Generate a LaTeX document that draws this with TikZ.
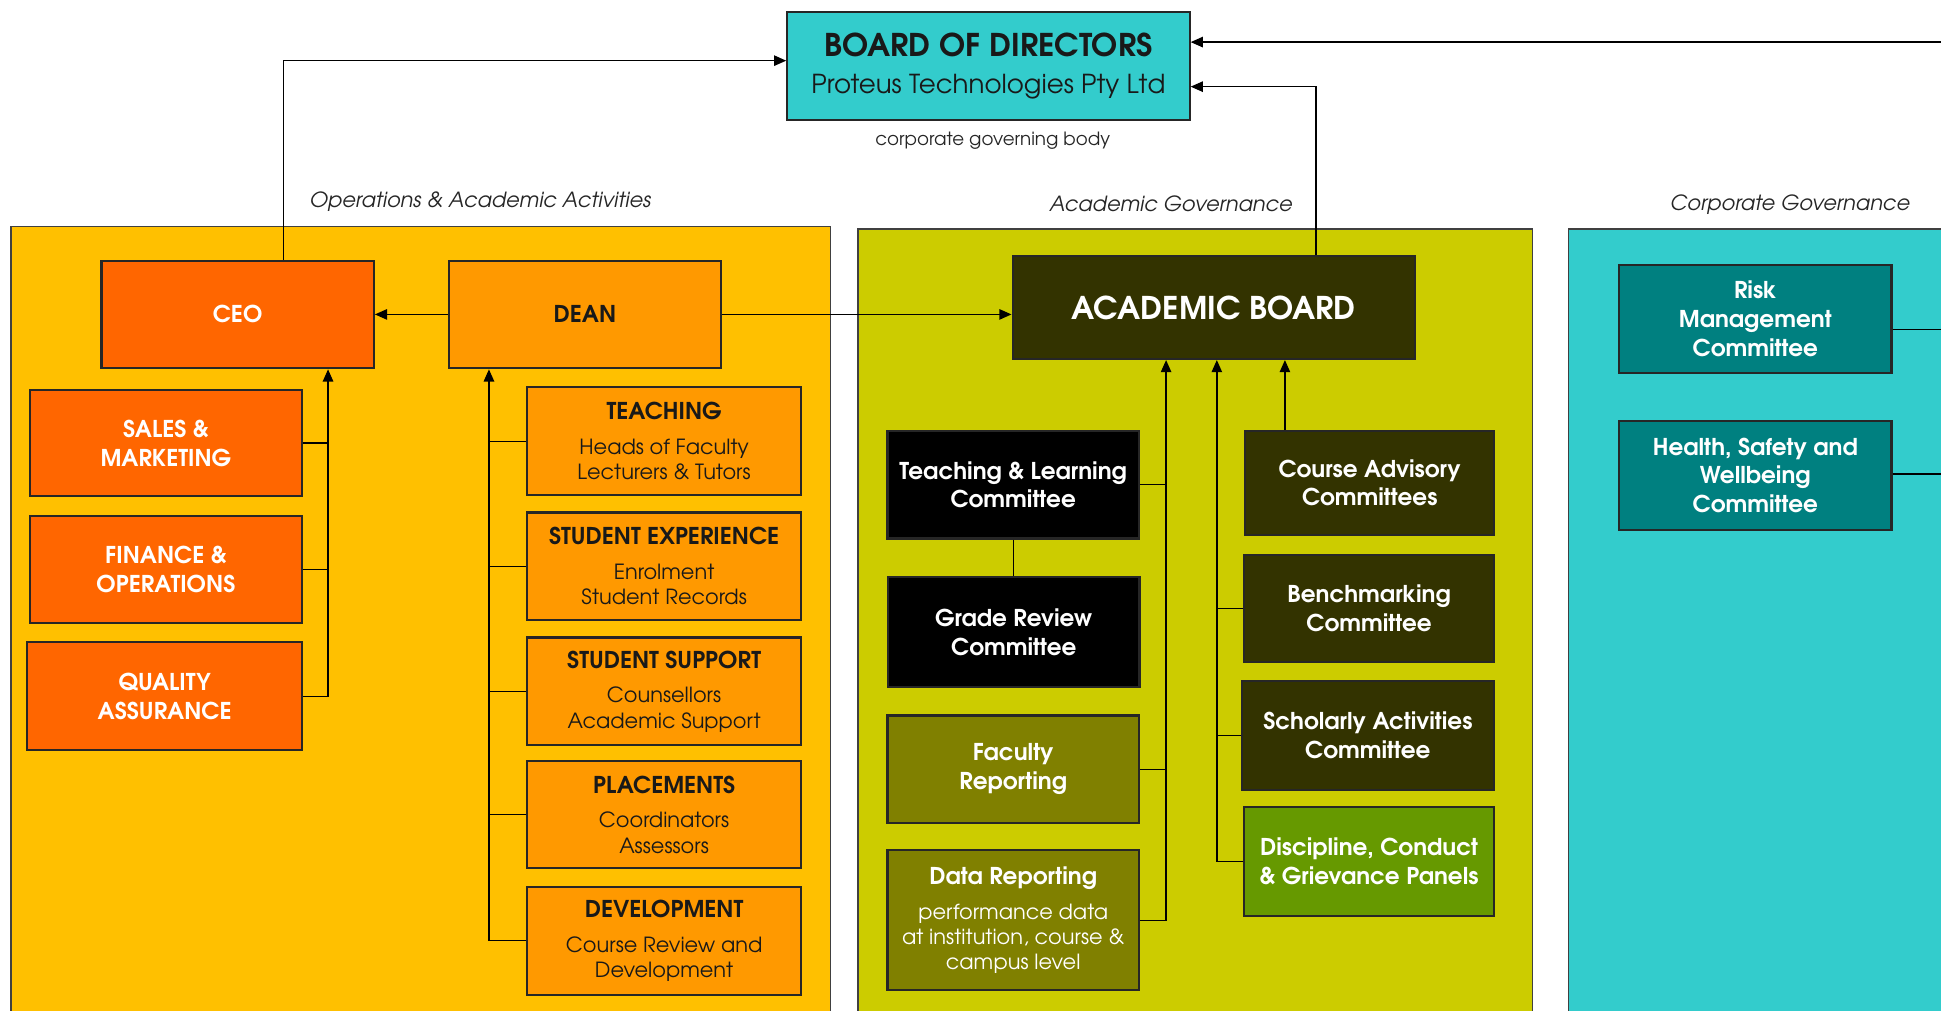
\documentclass[tikz,border=0pt]{standalone}
\usepackage{fontspec}
\setmainfont{texgyreadventor}[Extension=.otf, UprightFont=*-regular, BoldFont=*-bold,
  ItalicFont=*-italic, BoldItalicFont=*-bolditalic]
\usetikzlibrary{arrows.meta,calc}

\definecolor{boardcyan}{HTML}{33CCCC}
\definecolor{opsyellow}{HTML}{FFC000}
\definecolor{acadlime}{HTML}{CCCC00}
\definecolor{opsorange}{HTML}{FF6600}
\definecolor{deptorange}{HTML}{FF9900}
\definecolor{abolive}{HTML}{333300}
\definecolor{repolive}{HTML}{808000}
\definecolor{discgreen}{HTML}{669900}
\definecolor{corpteal}{HTML}{008080}

\newcommand{\headsz}{\fontsize{13.3}{16.5}\selectfont\bfseries}
\newcommand{\subsz}{\fontsize{12}{14.5}\selectfont}
\newcommand{\tagsz}{\fontsize{12}{14}\selectfont}
\newcommand{\boxhead}[1]{{\fontsize{13.3}{14.5}\selectfont\bfseries #1}\\[5.5pt]}

\begin{document}
\begin{tikzpicture}[x=0.025cm, y=-0.025cm,
    unit/.style={draw=black!85, line width=1.2pt, align=center, inner sep=2pt,
                 minimum width=5.5cm, minimum height=2.175cm},
    ops/.style={unit, fill=opsorange, text=white, font=\headsz},
    dept/.style={unit, fill=deptorange, text=black!90, minimum width=5.525cm, font=\subsz},
    cmte/.style={unit, minimum width=5.075cm, text=white, font=\headsz},
    corp/.style={unit, fill=corpteal, text=white, font=\headsz},
    panel/.style={draw=black!75, line width=0.9pt},
    tag/.style={font=\tagsz\itshape, text=black!85},
    link/.style={line width=0.8pt},
    up/.style={link, -{Triangle[length=7pt,width=6pt]}}]
    \useasboundingbox (0,0) rectangle (1568,816);
    \clip (0,0) rectangle (1568,816);

    % Panels
    \draw[panel, fill=opsyellow] (9,183) rectangle (671,830);
    \draw[panel, fill=acadlime] (693,185) rectangle (1238,830);
    \draw[panel, fill=boardcyan] (1267,185) rectangle (1590,830);

    % Board
    \node[unit, fill=boardcyan, text=black!90, minimum width=8.125cm,
          font=\fontsize{15}{21}\selectfont] (board) at (798.5,53.5)
          {{\fontsize{18}{21}\selectfont\bfseries BOARD OF DIRECTORS}\\Proteus Technologies Pty Ltd};
    \node[font=\fontsize{10.5}{12}\selectfont, text=black!85] (govnote) at (802,114) {corporate governing body};

    % Panel titles
    \node[tag] (opstag) at (388,163) {Operations \& Academic Activities};
    \node[tag] (acadtag) at (946,165) {Academic Governance};
    \node[tag] (corptag) at (1446,165) {Corporate Governance};

    % Operations
    \node[ops] (ceo) at (192,254) {CEO};
    \node[ops, fill=deptorange, text=black!90] (dean) at (472.5,254) {DEAN};
    \node[ops, minimum height=2.15cm] (sales) at (134,358) {SALES \&\\MARKETING};
    \node[ops, minimum height=2.15cm] (finance) at (134,460) {FINANCE \&\\OPERATIONS};
    \node[ops, minimum width=5.55cm] (quality) at (133,562.5) {QUALITY\\ASSURANCE};

    \node[dept] (teaching) at (536.5,356.5) {\boxhead{TEACHING}Heads of Faculty\\Lecturers \& Tutors};
    \node[dept] (studexp) at (536.5,457.5) {\boxhead{STUDENT EXPERIENCE}Enrolment\\Student Records};
    \node[dept] (studsup) at (536.5,558.5) {\boxhead{STUDENT SUPPORT}Counsellors\\Academic Support};
    \node[dept] (placements) at (536.5,658) {\boxhead{PLACEMENTS}Coordinators\\Assessors};
    \node[dept] (development) at (536.5,760) {\boxhead{DEVELOPMENT}Course Review and\\Development};

    % Academic governance
    \node[unit, fill=abolive, text=white, minimum width=8.125cm, minimum height=2.075cm,
          font=\fontsize{18}{22}\selectfont\bfseries] (acadboard) at (980.5,248.5) {ACADEMIC BOARD};

    \node[cmte, fill=black] (tlc) at (818.5,391.5) {Teaching \& Learning\\Committee};
    \node[cmte, fill=black, minimum height=2.225cm] (grc) at (819,510.5) {Grade Review\\Committee};
    \node[cmte, fill=repolive] (facrep) at (818.5,621.5) {Faculty\\Reporting};
    \node[cmte, fill=repolive, minimum height=2.825cm, font=\subsz] (datarep) at (818.5,743.5)
          {\boxhead{Data Reporting}performance data\\at institution, course \&\\campus level};

    \node[cmte, fill=abolive, minimum width=5.025cm, minimum height=2.1cm] (cac) at (1106.5,390) {Course Advisory\\Committees};
    \node[cmte, fill=abolive, minimum width=5.05cm] (bench) at (1106,491.5) {Benchmarking\\Committee};
    \node[cmte, fill=abolive, minimum width=5.1cm, minimum height=2.2cm] (scholarly) at (1105,594) {Scholarly Activities\\Committee};
    \node[cmte, fill=discgreen, minimum width=5.05cm, minimum height=2.2cm] (discipline) at (1106,696) {Discipline, Conduct\\\& Grievance Panels};

    % Corporate governance
    \node[corp] (risk) at (1418,257.5) {Risk\\Management\\Committee};
    \node[corp, minimum height=2.2cm] (whs) at (1418,384) {Health, Safety and\\Wellbeing\\Committee};

    % Reporting lines to the board
    \coordinate (corpline) at (1568,34);
    \draw[up] (corpline) -- (corpline -| board.east);
    \draw[up] ($(acadboard.north)+(82.5,0)$) |- ($(board.east)+(0,16.5)$);
    \draw[up] ($(ceo.north)+(37,0)$) |- ($(board.west)+(0,-4.5)$);

    % Operations lines
    \draw[up] (dean.west) -- (ceo.east);
    \draw[up] (dean.east) -- (dean.east -| acadboard.west);
    \draw[up] (quality.east) -| ($(ceo.south)+(73,0)$);
    \foreach \n in {sales,finance}
        \draw[link] (\n.east) -- +(21,0);
    \draw[up] (development.west) -| ($(dean.south)+(-77.5,0)$);
    \foreach \n in {teaching,studexp,studsup,placements}
        \draw[link] (\n.west) -- +(-31,0);

    % Committee lines
    \draw[link] (tlc.south) -- (tlc.south |- grc.north);
    \draw[up] (datarep.east) -| ($(acadboard.south)+(-38.5,0)$);
    \foreach \n in {tlc,facrep}
        \draw[link] (\n.east) -- +(22,0);
    \coordinate (rbus) at ($(acadboard.south)+(2.5,0)$);
    \draw[up] (discipline.west) -| (rbus);
    \foreach \n in {bench,scholarly}
        \draw[link] (\n.west) -- (\n.west -| rbus);
    \coordinate (cacup) at ($(cac.north)+(-68.5,0)$);
    \draw[up] (cacup) -- (cacup |- acadboard.south);

    \foreach \n/\dy in {risk/8.5,whs/-1}
        \draw[link] ($(\n.east)+(0,\dy)$) -- +(45,0);
\end{tikzpicture}
\end{document}
